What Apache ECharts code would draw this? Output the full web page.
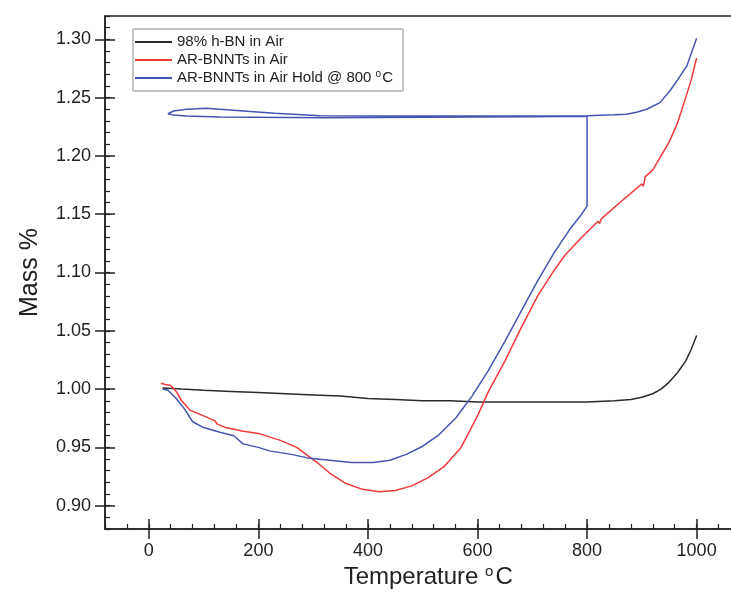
<!DOCTYPE html>
<html>
<head>
<meta charset="utf-8">
<script src="https://cdn.jsdelivr.net/npm/echarts@6/dist/echarts.min.js"></script>
<style>html,body{margin:0;padding:0;background:#fff;}#c{width:731px;height:602px;}</style>
</head>
<body>
<div id="c"></div>
<script>
// ---- data ----
const tempTicks = [0, 200, 400, 600, 800, 1000];
const massTicks = [0.90, 0.95, 1.00, 1.05, 1.10, 1.15, 1.20, 1.25, 1.30];

const seriesNames = ['98% h-BN in Air', 'AR-BNNTs in Air', 'AR-BNNTs in Air Hold @ 800 °C'];

const hbnTemp = [25, 60, 100, 150, 200, 250, 300, 350, 400, 450, 500, 550, 600, 650, 700, 750, 800, 850, 880, 900, 920, 935, 950, 965, 980, 990, 1000];
const hbnMass = [1.001, 1.000, 0.999, 0.998, 0.997, 0.996, 0.995, 0.994, 0.992, 0.991, 0.990, 0.990, 0.989, 0.989, 0.989, 0.989, 0.989, 0.990, 0.991, 0.993, 0.996, 1.000, 1.006, 1.014, 1.024, 1.034, 1.046];

const bnntTemp = [22, 30, 40, 50, 60, 75, 100, 120, 125, 140, 170, 200, 240, 270, 290, 310, 330, 360, 390, 420, 450, 480, 510, 540, 570, 600, 620, 650, 680, 710, 740, 760, 790, 820, 823, 826, 860, 900, 903, 906, 920, 935, 950, 965, 980, 990, 1000];
const bnntMass = [1.005, 1.004, 1.003, 0.998, 0.990, 0.982, 0.977, 0.973, 0.970, 0.967, 0.964, 0.962, 0.956, 0.950, 0.943, 0.936, 0.928, 0.919, 0.914, 0.912, 0.913, 0.917, 0.924, 0.934, 0.950, 0.977, 0.998, 1.024, 1.053, 1.080, 1.102, 1.115, 1.130, 1.144, 1.142, 1.146, 1.160, 1.176, 1.174, 1.182, 1.188, 1.200, 1.212, 1.228, 1.250, 1.265, 1.284];

const holdTemp = [25, 35, 50, 65, 80, 100, 130, 155, 172, 200, 220, 260, 290, 330, 370, 410, 440, 470, 500, 530, 560, 590, 620, 650, 680, 710, 740, 770, 790, 800,
  800, 700, 500, 320, 130, 69, 45, 35,
  45, 69, 105, 160, 230, 312, 500, 700, 800, 850, 872, 890, 909, 933, 951, 965, 982, 1000];
const holdMass = [1.000, 0.999, 0.992, 0.983, 0.972, 0.967, 0.963, 0.960, 0.953, 0.950, 0.947, 0.944, 0.941, 0.939, 0.937, 0.937, 0.939, 0.944, 0.951, 0.961, 0.975, 0.994, 1.016, 1.041, 1.067, 1.093, 1.117, 1.138, 1.150, 1.157,
  1.234, 1.2336, 1.2332, 1.2328, 1.2334, 1.2343, 1.2350, 1.2362,
  1.2385, 1.2400, 1.2408, 1.2390, 1.2365, 1.2345, 1.2343, 1.2343, 1.2345, 1.2352, 1.2357, 1.2375, 1.2400, 1.2457, 1.2557, 1.2650, 1.2770, 1.3010];

const colors = ['#2b2b2b', '#f03a3a', '#4554b0'];

// ---- chart ----
const zip = (a, b) => a.map((v, i) => [v, b[i]]);
const FONT = 'Liberation Sans, Arial, sans-serif';
const AX = '#222';
const xMin = -80, xMax = 1100, yMin = 0.88, yMax = 1.32;

function xAxisBase(extra) {
  return Object.assign({
    type: 'value', position: 'bottom', min: xMin, max: xMax,
    splitLine: { show: false },
    axisLine: { show: false, onZero: false },
    axisLabel: { show: false }
  }, extra);
}
function yAxisBase(extra) {
  return Object.assign({
    type: 'value', position: 'left', min: yMin, max: yMax,
    splitLine: { show: false },
    axisLine: { show: false, onZero: false },
    axisLabel: { show: false }
  }, extra);
}

const chart = echarts.init(document.getElementById('c'), null, { renderer: 'canvas' });
chart.setOption({
  animation: false,
  backgroundColor: '#fff',
  grid: {
    left: 105, top: 16, right: -20.4, bottom: 73,
    show: true, borderColor: AX, borderWidth: 1.5, backgroundColor: 'transparent',
    containLabel: false, outerBoundsMode: 'none'
  },
  legend: {
    left: 133, top: 29,
    orient: 'vertical',
    padding: [4, 10, 4, 2],
    itemGap: 0,
    itemWidth: 37, itemHeight: 2,
    icon: 'rect',
    borderColor: '#8a8a8a', borderWidth: 1,
    data: seriesNames,
    formatter: n => n.replace('°C', '{sup|o}C'),
    textStyle: {
      fontFamily: FONT, fontSize: 15, color: '#222', lineHeight: 18,
      rich: { sup: { fontSize: 10, lineHeight: 18, verticalAlign: 'top', padding: [0, 1, 7, 0] } }
    }
  },
  xAxis: [
    xAxisBase({
      axisLine: { show: true, onZero: false, lineStyle: { color: AX, width: 1.5 } },
      axisTick: { show: true, inside: false, length: 10, customValues: tempTicks, lineStyle: { color: AX, width: 1.5 } },
      axisLabel: { show: true, customValues: tempTicks, margin: 13, fontFamily: FONT, fontSize: 18, color: '#222', formatter: v => String(v) },
      name: 'Temperature {sup|o}C', nameLocation: 'middle', nameGap: 35, nameMoveOverlap: false,
      nameTextStyle: {
        fontFamily: FONT, fontSize: 24, color: '#222', lineHeight: 27,
        rich: { sup: { fontSize: 15, lineHeight: 27, verticalAlign: 'top', padding: [0, 2, 9, 0] } }
      }
    }),
    xAxisBase({ axisTick: { show: true, inside: true, length: 10, customValues: tempTicks, lineStyle: { color: AX, width: 1.5 } } }),
    xAxisBase({ interval: 40, axisTick: { show: true, inside: true, length: 5, lineStyle: { color: AX, width: 1.2 } } })
  ],
  yAxis: [
    yAxisBase({
      axisLine: { show: true, onZero: false, lineStyle: { color: AX, width: 1.5 } },
      axisTick: { show: true, inside: false, length: 10, customValues: massTicks, lineStyle: { color: AX, width: 1.5 } },
      axisLabel: { show: true, customValues: massTicks, margin: 14, fontFamily: FONT, fontSize: 18, color: '#222', formatter: v => v.toFixed(2) },
      name: 'Mass %', nameLocation: 'middle', nameGap: 62, nameMoveOverlap: false,
      nameTextStyle: { fontFamily: FONT, fontSize: 25, color: '#222' }
    }),
    yAxisBase({ axisTick: { show: true, inside: true, length: 10, customValues: massTicks, lineStyle: { color: AX, width: 1.5 } } }),
    yAxisBase({ interval: 0.01, axisTick: { show: true, inside: true, length: 5, lineStyle: { color: AX, width: 1.2 } } })
  ],
  series: [
    { name: seriesNames[0], type: 'line', data: zip(hbnTemp, hbnMass), color: colors[0] },
    { name: seriesNames[1], type: 'line', data: zip(bnntTemp, bnntMass), color: colors[1] },
    { name: seriesNames[2], type: 'line', data: zip(holdTemp, holdMass), color: colors[2] }
  ].map(s => Object.assign(s, {
    xAxisIndex: 0, yAxisIndex: 0, symbol: 'none', showSymbol: false, smooth: false,
    lineStyle: { width: 1.5, color: s.color }, itemStyle: { color: s.color }, clip: true
  }))
});
</script>
</body>
</html>
